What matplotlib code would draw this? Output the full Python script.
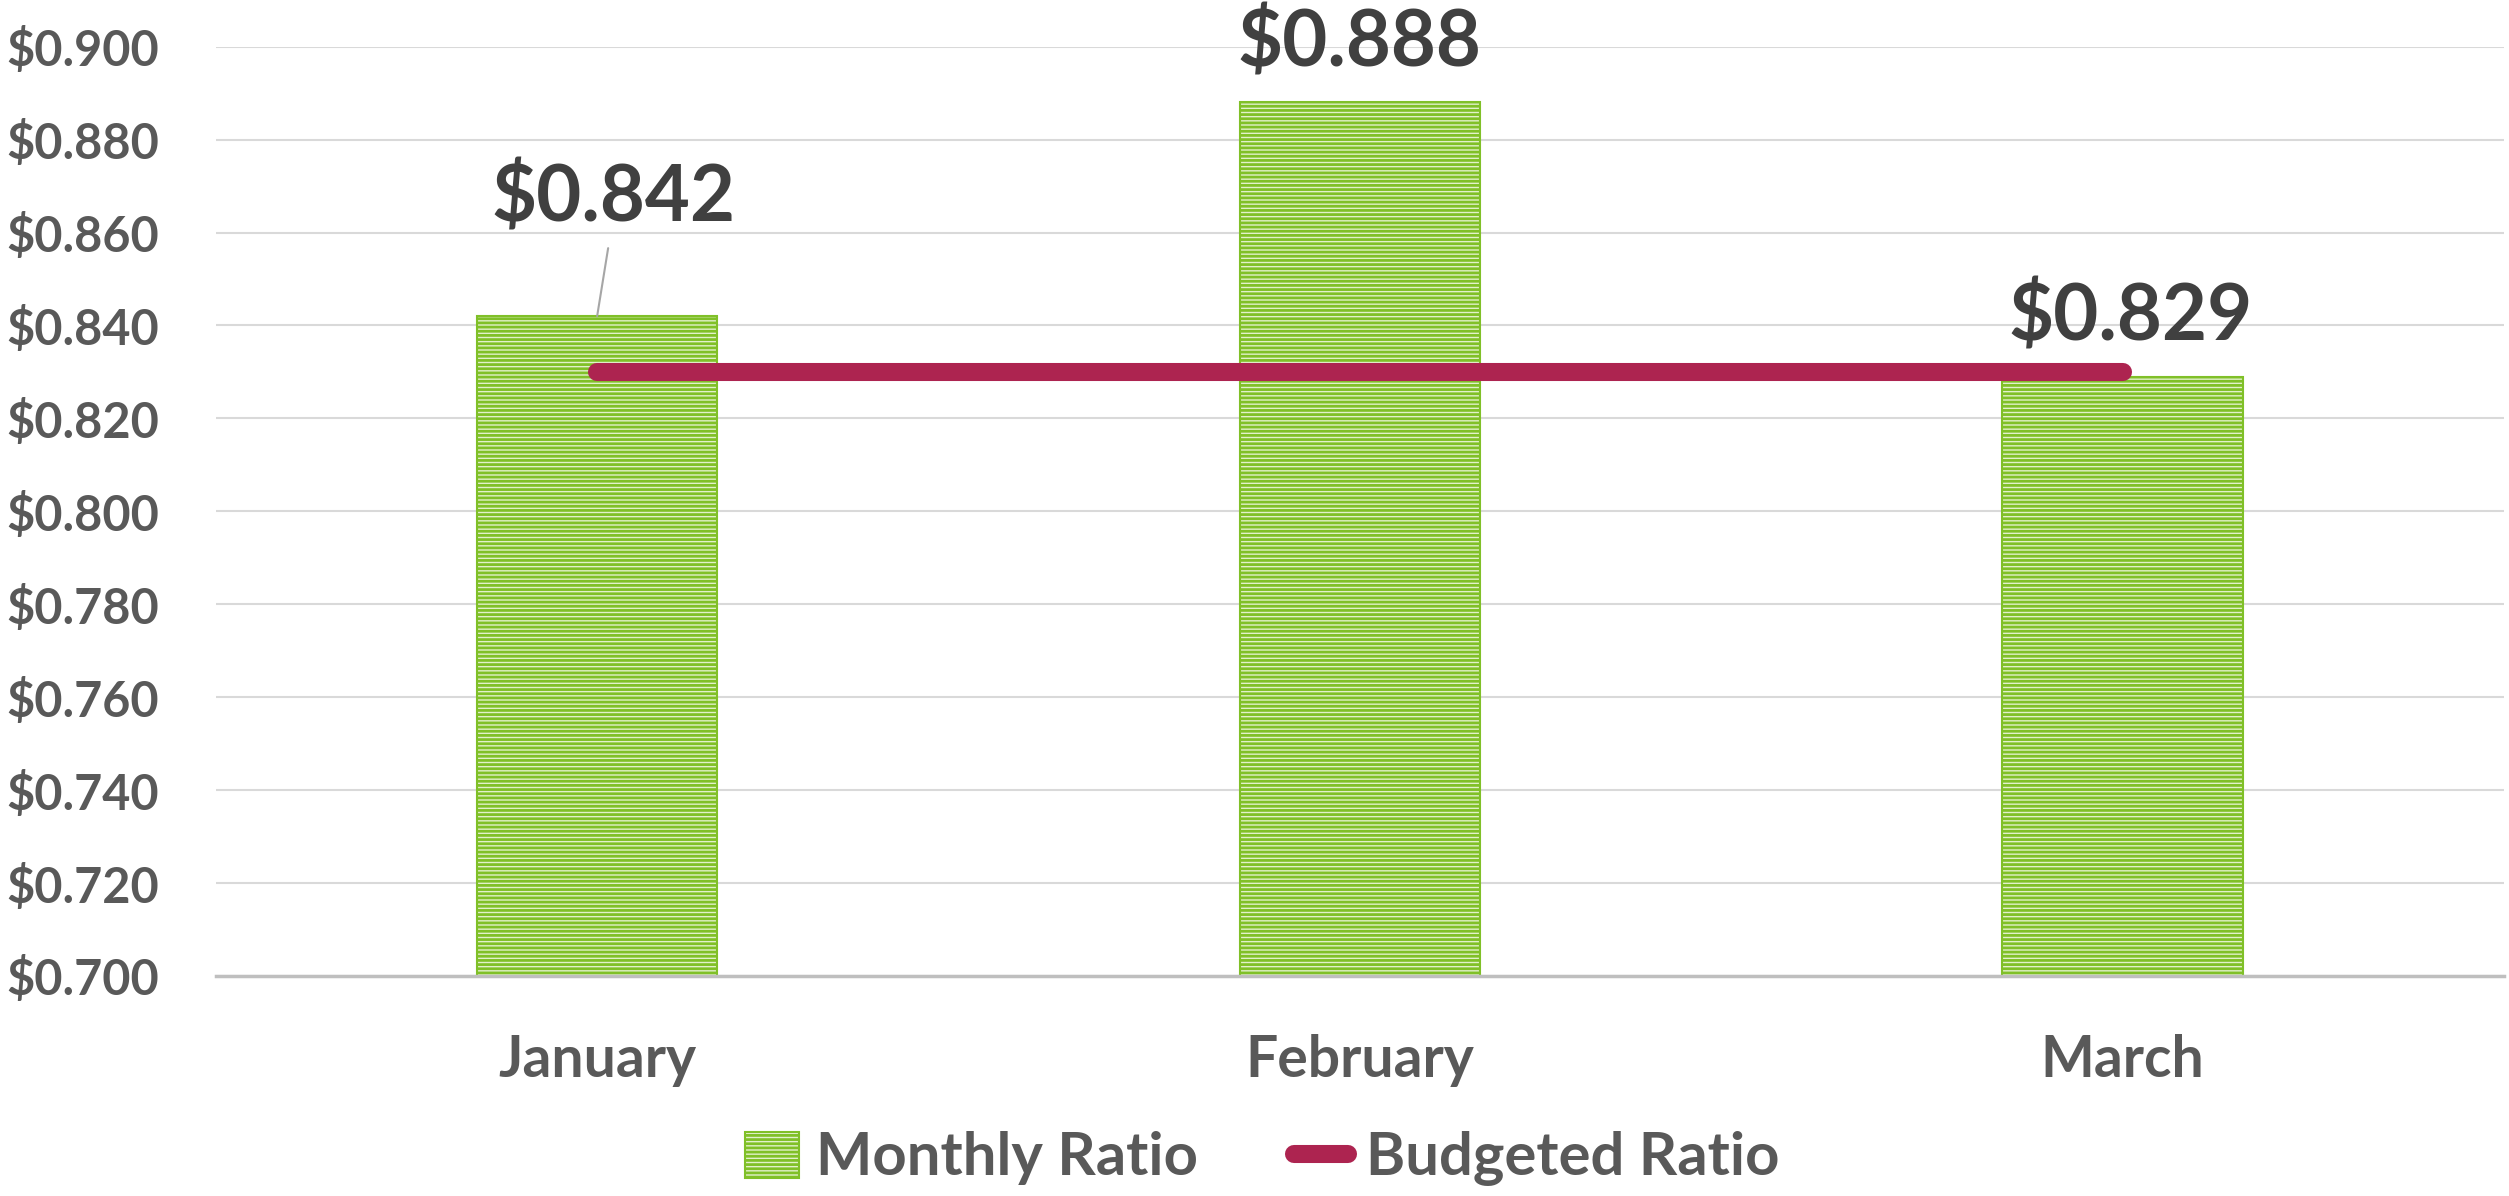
import matplotlib
matplotlib.use("Agg")
import matplotlib.pyplot as plt
from matplotlib.patches import Patch
from matplotlib.lines import Line2D

# chart data
months = ["January", "February", "March"]
monthly_ratio = [0.842, 0.888, 0.829]
budgeted_ratio = [0.830, 0.830, 0.830]
y_ticks = [0.700, 0.720, 0.740, 0.760, 0.780, 0.800, 0.820, 0.840, 0.860, 0.880, 0.900]

plt.rcParams['font.family'] = ['Lato', 'DejaVu Sans']
plt.rcParams['font.weight'] = 'bold'
plt.rcParams['hatch.linewidth'] = 2.0

text_grey = '#595959'
label_grey = '#404040'
green = '#80c028'
light_green = '#e2f1cc'
crimson = '#ad2450'

fig = plt.figure(figsize=(25.09, 11.96), dpi=100)
ax = fig.add_axes([0.086, 0.184, 0.912, 0.777])

x = list(range(len(months)))
bars = ax.bar(x, monthly_ratio, width=0.315, bottom=0, color=light_green,
              edgecolor=green, hatch='----', linewidth=1.5, zorder=2)
ax.plot(x, budgeted_ratio, color=crimson, linewidth=13, solid_capstyle='round', zorder=3)

ax.set_xlim(-0.5, 2.5)
ax.set_ylim(0.700, 0.900)
ax.set_yticks(y_ticks)
ax.set_yticklabels(["$%.3f" % v for v in y_ticks], fontsize=35, color=text_grey)
ax.set_xticks(x)
ax.set_xticklabels(months, fontsize=41, color=text_grey)
ax.tick_params(axis='both', length=0)
ax.tick_params(axis='x', pad=42)
for lbl in ax.get_yticklabels():
    lbl.set_horizontalalignment('left')
ax.yaxis.set_tick_params(pad=151)

ax.grid(axis='y', color='#d9d9d9', linewidth=1.5, zorder=0)
for s in ['top', 'right', 'left']:
    ax.spines[s].set_visible(False)
ax.spines['bottom'].set_color('#bfbfbf')
ax.spines['bottom'].set_linewidth(2.5)
ax.spines['bottom'].set_zorder(4)

# data labels (offsets in pixels above bar top)
offsets = [81, 22, 22]
x_shift = [16, 0, 8]
for i, v in enumerate(monthly_ratio):
    ax.annotate("$%.3f" % v, xy=(i, v), xytext=(x_shift[i], offsets[i]),
                textcoords='offset pixels', ha='center', va='bottom',
                fontsize=56, color=label_grey, annotation_clip=False, zorder=5)
# leader line for January label
ax.annotate("", xy=(0, monthly_ratio[0]), xytext=(11, 68), textcoords='offset pixels',
            arrowprops=dict(arrowstyle='-', color='#a6a6a6', linewidth=1.5,
                            shrinkA=0, shrinkB=0))

handles = [Patch(facecolor=light_green, edgecolor=green, hatch='----', linewidth=1.5),
           Line2D([0], [0], color=crimson, linewidth=13, solid_capstyle='round')]
leg = fig.legend(handles, ["Monthly Ratio", "Budgeted Ratio"], loc='center',
                 bbox_to_anchor=(0.503, 0.031), ncol=2, frameon=False, fontsize=43,
                 handlelength=0.9, handletextpad=0.3, columnspacing=1.6,
                 handleheight=0.8)
for t in leg.get_texts():
    t.set_color(text_grey)

fig.savefig("out.png", dpi=100, facecolor='white')
